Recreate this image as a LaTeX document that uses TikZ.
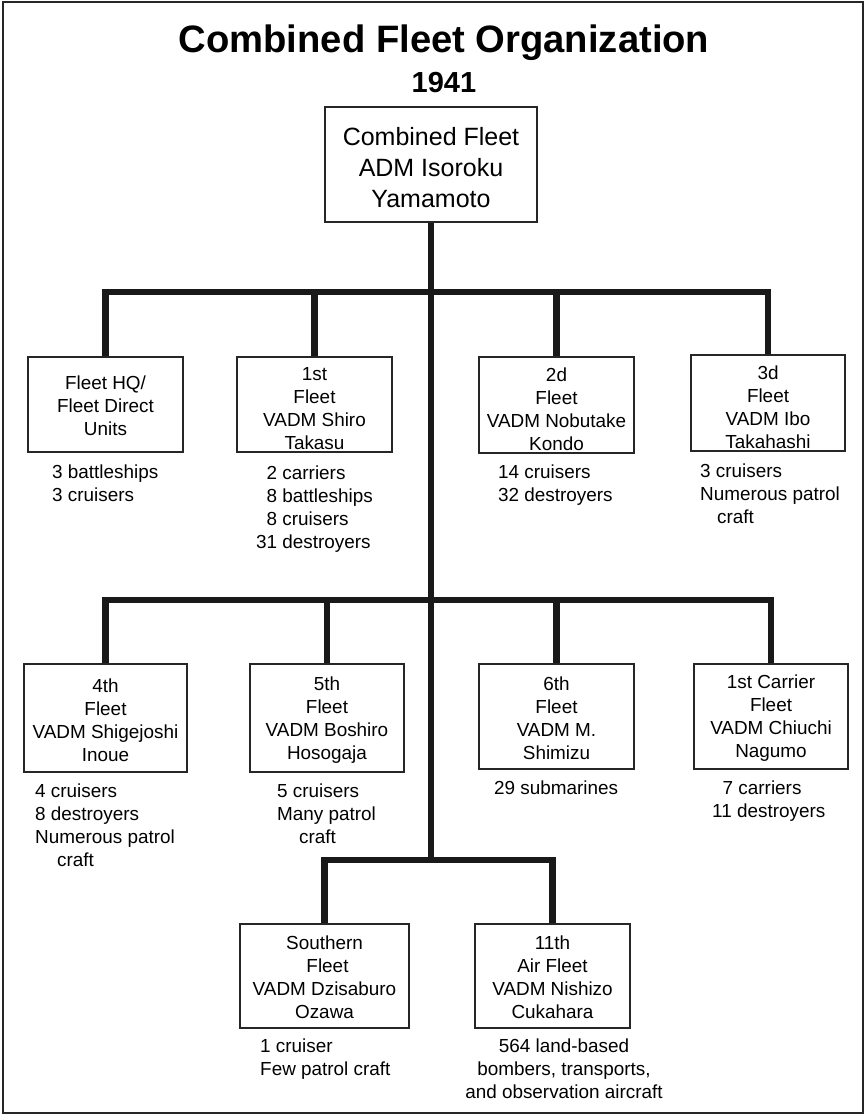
\documentclass[tikz,border=0pt]{standalone}
\usepackage{fontspec}
\setmainfont{Liberation Sans}
\newcommand{\firstup}[1]{\rule{0pt}{#1}}
\begin{document}
\begin{tikzpicture}[x=1pt,y=-1pt,
  box/.style={draw=black!85, line width=1.3pt, inner sep=0pt, align=center,
              font=\fontsize{18.9}{23}\selectfont},
  stat/.style={anchor=north west, inner sep=0pt, align=left,
               font=\fontsize{18.9}{23}\selectfont},
  conn/.style={line width=6.5pt, black!90, line join=miter}]
\useasboundingbox (0,0) rectangle (865,1115);
\draw[line width=2pt, black!85] (3,2.5) rectangle (862.5,1112.5);

\node[anchor=base, font=\fontsize{38.2}{41}\selectfont\bfseries, inner sep=0pt] (title) at (444,53) {Combined Fleet Organization};
\node[anchor=base, font=\fontsize{29}{32}\selectfont\bfseries, inner sep=0pt] (year) at (444,93) {1941};

\node[box, minimum width=212pt, minimum height=115pt, font=\fontsize{25}{31}\selectfont] (top) at (431,164.5)
  {\firstup{24.5pt}Combined Fleet\\ADM Isoroku\\Yamamoto};

\node[box, minimum width=155pt, minimum height=95pt] (hq) at (105.5,404.5) {\firstup{16.5pt}Fleet HQ/\\Fleet Direct\\Units};
\node[box, minimum width=155pt, minimum height=95pt] (f1) at (314.5,404.5) {\firstup{21.5pt}1st\\Fleet\\VADM Shiro\\Takasu};
\node[box, minimum width=155pt, minimum height=96pt] (f2) at (556.5,405) {\firstup{21.5pt}2d\\Fleet\\VADM Nobutake\\Kondo};
\node[box, minimum width=154pt, minimum height=96pt] (f3) at (768,403) {\firstup{21.5pt}3d\\Fleet\\VADM Ibo\\Takahashi};

\node[box, minimum width=163pt, minimum height=108pt] (f4) at (105.5,718) {\firstup{17.5pt}4th\\Fleet\\VADM Shigejoshi\\Inoue};
\node[box, minimum width=154pt, minimum height=108pt] (f5) at (327,718) {\firstup{17.5pt}5th\\Fleet\\VADM Boshiro\\Hosogaja};
\node[box, minimum width=155pt, minimum height=105pt] (f6) at (556.5,716.5) {\firstup{16.5pt}6th\\Fleet\\VADM M.\\Shimizu};
\node[box, minimum width=154pt, minimum height=105pt] (fc) at (771,716.5) {\firstup{16.5pt}1st Carrier\\Fleet\\VADM Chiuchi\\Nagumo};

\node[box, minimum width=169pt, minimum height=104pt] (fs) at (324.5,976) {\firstup{16.5pt}Southern\\\hspace{6pt}Fleet\\VADM Dzisaburo\\Ozawa};
\node[box, minimum width=155pt, minimum height=104pt] (f11) at (552.5,976) {\firstup{16.5pt}11th\\Air Fleet\\VADM Nishizo\\Cukahara};

% connectors
\coordinate (b1) at (431,292);
\coordinate (b2) at (431,600);
\coordinate (b3) at (431,860);
\draw[conn] (top.south) -- (b3);
\draw[conn] (hq.north) |- (b1) -| (f3.north);
\draw[conn] (f1.north) -- (f1.north |- b1);
\draw[conn] (f2.north) -- (f2.north |- b1);
\draw[conn] (f4.north) |- (b2) -| (fc.north);
\draw[conn] (f5.north) -- (f5.north |- b2);
\draw[conn] (f6.north) -- (f6.north |- b2);
\draw[conn] (fs.north) |- (b3) -| (f11.north);

% strengths
\node[stat] (shq) at (52,464.2) {3 battleships\\3 cruisers};
\node[stat] (sf1) at (256,465.2) {\hphantom{3}2 carriers\\\hphantom{3}8 battleships\\\hphantom{3}8 cruisers\\31 destroyers};
\node[stat] (sf2) at (498,464.2) {14 cruisers\\32 destroyers};
\node[stat] (sf3) at (700,463.2) {3 cruisers\\Numerous patrol\\\hspace{17pt}craft};
\node[stat] (sf4) at (35,783.2) {4 cruisers\\8 destroyers\\Numerous patrol\\\hspace{22pt}craft};
\node[stat] (sf5) at (277,783.2) {5 cruisers\\Many patrol\\\hspace{22pt}craft};
\node[stat] (sf6) at (494,780.2) {29 submarines};
\node[stat] (sfc) at (712,780.2) {\hphantom{1}7 carriers\\11 destroyers};
\node[stat] (sfs) at (260,1038.2) {1 cruiser\\Few patrol craft};
\node[stat, anchor=north, align=center] (sf11) at (564,1038.2) {564 land-based\\bombers, transports,\\and observation aircraft};
\end{tikzpicture}
\end{document}
